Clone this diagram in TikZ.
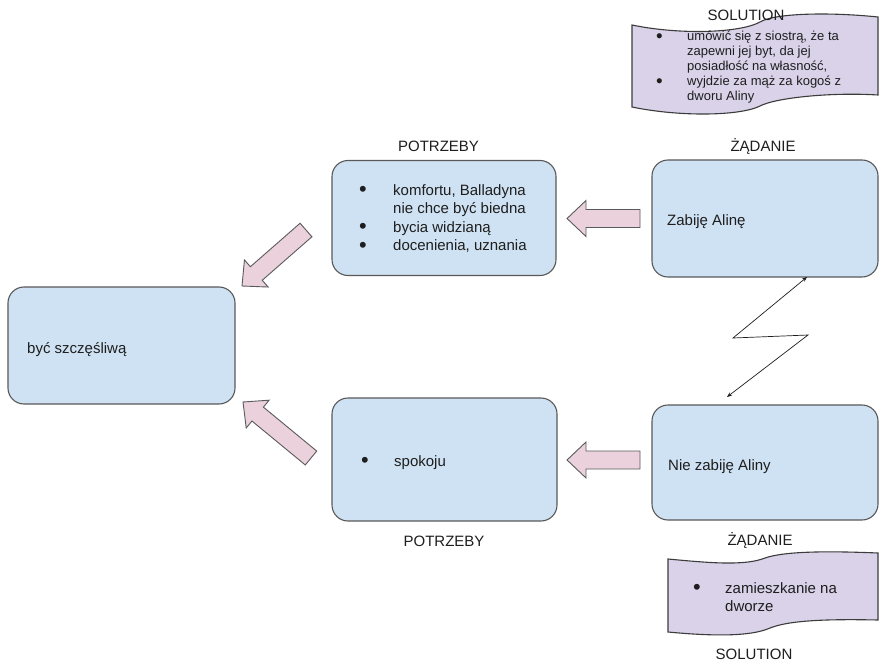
\documentclass[tikz,border=0pt]{standalone}
\usepackage{fontspec}
\setmainfont{Liberation Sans}
\usetikzlibrary{calc,arrows.meta}

\definecolor{boxfill}{HTML}{CFE2F3}
\definecolor{boxline}{HTML}{595959}
\definecolor{arrfill}{HTML}{EAD1DC}
\definecolor{arrline}{HTML}{5A5A5A}
\definecolor{wavefill}{HTML}{D9D2E9}
\definecolor{waveline}{HTML}{3C3C3C}
\definecolor{ink}{HTML}{1E1E1E}

% list bullet, a little larger than the plain one (kept out of the line height)
\newcommand{\listdot}{\smash{\raisebox{-0.1em}{\scalebox{1.45}{\textbullet}}}}

% wide "block" arrow from tail #1 to tip #2
\newcommand{\blockarrow}[2]{%
  \coordinate (ba-h) at ($(#2)!19pt!(#1)$);
  \draw[blockarr]
    ($(#1)!9pt!90:(#2)$) -- ($(ba-h)!9pt!-90:(#1)$) -- ($(ba-h)!18pt!-90:(#1)$)
    -- (#2)
    -- ($(ba-h)!18pt!90:(#1)$) -- ($(ba-h)!9pt!90:(#1)$) -- ($(#1)!9pt!-90:(#2)$) -- cycle;
}

\begin{document}
\begin{tikzpicture}[x=1pt,y=-1pt,
  box/.style={draw=boxline, fill=boxfill, line width=1.1pt, rounded corners=16pt, inner sep=0pt},
  blockarr/.style={draw=arrline, fill=arrfill, line width=0.9pt, line join=miter},
  wave/.style={draw=waveline, fill=wavefill, line width=1.1pt},
  lbl/.style={font=\fontsize{15}{18}\selectfont, text=ink, inner sep=0pt, anchor=base},
  body/.style={font=\fontsize{15}{18.5}\selectfont, text=ink, inner sep=0pt, anchor=base west},
  small/.style={font=\fontsize{13}{15}\selectfont, text=ink, inner sep=0pt, anchor=base west},
  zig/.style={{Stealth[length=5pt,width=4pt]}-{Stealth[length=5pt,width=4pt]}, line width=0.7pt, draw=ink},
]
\useasboundingbox (0,0) rectangle (879,661);
\fill[white] (0,0) rectangle (879,661);

% ---- boxes
\node[box, minimum width=227pt, minimum height=117pt] (goal)  at (121.5,345.5) {};
\node[box, minimum width=224pt, minimum height=115pt] (needA) at (444,218) {};
\node[box, minimum width=226pt, minimum height=117pt] (wantA) at (765,218.5) {};
\node[box, minimum width=225pt, minimum height=123pt] (needB) at (444.5,459.5) {};
\node[box, minimum width=226pt, minimum height=115pt] (wantB) at (765,462.5) {};

% ---- box texts
\node[body] (goaltxt)  at (27,353) {być szczęśliwą};
\node[body] (wantAtxt) at (667,225) {Zabiję Alinę};
\node[body] (wantBtxt) at (668,470) {Nie zabiję Aliny};
\node[body] (needAtxt) at (359,195) {\begin{tabular}[t]{@{}p{34pt}@{}l@{}}
  \listdot & komfortu, Balladyna\\
           & nie chce być biedna\\
  \listdot & bycia widzianą\\
  \listdot & docenienia, uznania
\end{tabular}};
\node[body] (needBtxt) at (361,466) {\begin{tabular}[t]{@{}p{33pt}@{}l@{}}
  \listdot & spokoju
\end{tabular}};

% ---- headings
\node[lbl] (needAlbl) at (438.5,151) {POTRZEBY};
\node[lbl] (wantAlbl) at (763,151) {ŻĄDANIE};
\node[lbl] (needBlbl) at (444,546) {POTRZEBY};
\node[lbl] (wantBlbl) at (760,545) {ŻĄDANIE};

% ---- solution waves
\path[wave] (632,25) .. controls (680,35) and (740,33) .. (760,22)
  .. controls (775,13) and (830,12) .. (878,17)
  -- (878,95) .. controls (830,92) and (775,98) .. (760,106)
  .. controls (740,116) and (680,117) .. (632,107) -- cycle;
\node[lbl] (solAlbl) at (746,21) {SOLUTION};
\node[small] (solAtxt) at (656,41) {\begin{tabular}[t]{@{}p{31pt}@{}l@{}}
  \listdot & umówić się z siostrą, że ta\\
           & zapewni jej byt, da jej\\
           & posiadłość na własność,\\
  \listdot & wyjdzie za mąż za kogoś z\\
           & dworu Aliny
\end{tabular}};

\path[wave] (668,559) .. controls (710,563) and (745,566) .. (765,558)
  .. controls (785,551) and (830,551) .. (878,553)
  -- (878,620) .. controls (830,619) and (790,620) .. (770,628)
  .. controls (750,637) and (710,636) .. (668,632) -- cycle;
\node[body] (solBtxt) at (693,593) {\begin{tabular}[t]{@{}p{32pt}@{}l@{}}
  \listdot & zamieszkanie na\\
           & dworze
\end{tabular}};
\node[lbl] (solBlbl) at (754,659) {SOLUTION};

% ---- block arrows
\coordinate (arA-t) at (640,218.5);
\coordinate (arA-h) at (567,218.5);
\coordinate (arB-t) at (640,460);
\coordinate (arB-h) at (567,460);
\coordinate (arC-t) at (306,230);
\coordinate (arC-h) at (242,286);
\coordinate (arD-t) at (311,458);
\coordinate (arD-h) at (243,402);
\blockarrow{arA-t}{arA-h}
\blockarrow{arB-t}{arB-h}
\blockarrow{arC-t}{arC-h}
\blockarrow{arD-t}{arD-h}

% ---- conflict zigzag between the two demands
\coordinate (zz1) at (807,277);
\coordinate (zz2) at (733,338);
\coordinate (zz3) at (808,335);
\coordinate (zz4) at (727,397);
\draw[zig] (zz1) -- (zz2) -- (zz3) -- (zz4);
\end{tikzpicture}
\end{document}
